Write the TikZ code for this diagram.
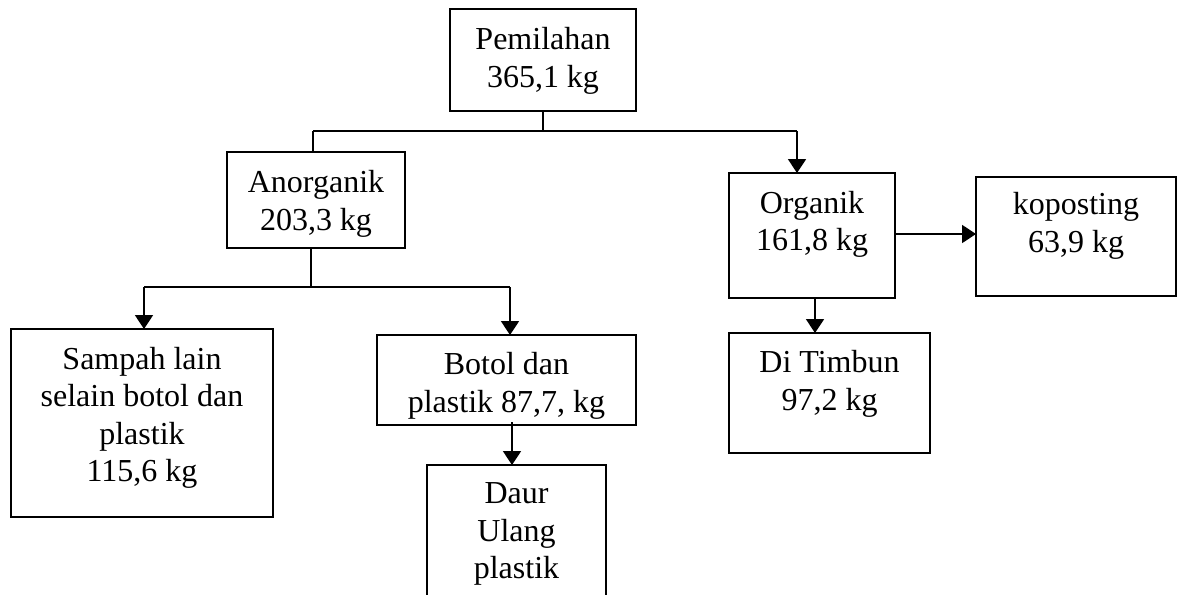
\documentclass[tikz,border=0pt]{standalone}
\usepackage{fontspec}
\setmainfont{Liberation Serif}
\usetikzlibrary{arrows.meta}
\tikzset{
  box/.style={draw, line width=1pt, inner sep=0pt, outer sep=0pt, rectangle},
  txt/.style={inner sep=0pt, outer sep=0pt, align=center, anchor=north,
    font=\fontsize{16}{18.7}\selectfont},
  link/.style={line width=0.9pt},
  arr/.style={line width=0.9pt, -{Triangle[width=9pt,length=7pt]}}
}
\begin{document}
\begin{tikzpicture}[x=0.5pt,y=-0.5pt]
\clip (0,0) rectangle (1182,594);
\fill[white] (0,0) rectangle (1182,594);
% boxes
\node[box, minimum width=93pt, minimum height=51pt] (pem) at (543,60) {};
\node[box, minimum width=89pt, minimum height=48pt] (anor) at (316,200) {};
\node[box, minimum width=83pt, minimum height=62.5pt] (org) at (812,235.5) {};
\node[box, minimum width=100pt, minimum height=59.5pt] (kop) at (1076,236.5) {};
\node[box, minimum width=100.5pt, minimum height=60pt] (tim) at (829.5,393) {};
\node[box, minimum width=131pt, minimum height=94pt] (samp) at (142,423) {};
\node[box, minimum width=129.5pt, minimum height=45pt] (bot) at (506.5,380) {};
\node[box, minimum width=89.5pt, minimum height=80pt] (daur) at (516.5,545) {};
% texts
\node[txt] (tpem) at (543,23.8) {\strut Pemilahan\\365,1 kg};
\node[txt] (tanor) at (316,166.5) {\strut Anorganik\\203,3 kg};
\node[txt] (torg) at (812,187.1) {\strut Organik\\161,8 kg};
\node[txt] (tkop) at (1076,188.8) {\strut koposting\\63,9 kg};
\node[txt] (ttim) at (829.5,346.5) {\strut Di Timbun\\97,2 kg};
\node[txt] (tsamp) at (142,343.1) {\strut Sampah lain\\selain botol dan\\plastik\\115,6 kg};
\node[txt] (tbot) at (506.5,348.8) {\strut Botol dan\\plastik 87,7, kg};
\node[txt] (tdaur) at (516.5,477.8) {\strut Daur\\Ulang\\plastik};
% junctions
\coordinate (j1) at (543,131);
\coordinate (jL) at (313,131);
\coordinate (jR) at (797,131);
\coordinate (j2) at (311,287);
\coordinate (kL) at (144,287);
\coordinate (kR) at (510,287);
\coordinate (oR) at (895,234);
\coordinate (oB) at (815,298);
\coordinate (bB) at (512,422);
% connectors
\draw[link] (pem.south) -- (j1);
\draw[link] (jL) -- (jR);
\draw[link] (jL) -- (jL |- anor.north);
\draw[arr] (jR) -- (jR |- org.north);
\draw[link] (anor.south -| j2) -- (j2);
\draw[link] (kL) -- (kR);
\draw[arr] (kL) -- (kL |- samp.north);
\draw[arr] (kR) -- (kR |- bot.north);
\draw[arr] (oR) -- (oR -| kop.west);
\draw[arr] (oB) -- (oB |- tim.north);
\draw[arr] (bB) -- (bB |- daur.north);
\end{tikzpicture}
\end{document}
